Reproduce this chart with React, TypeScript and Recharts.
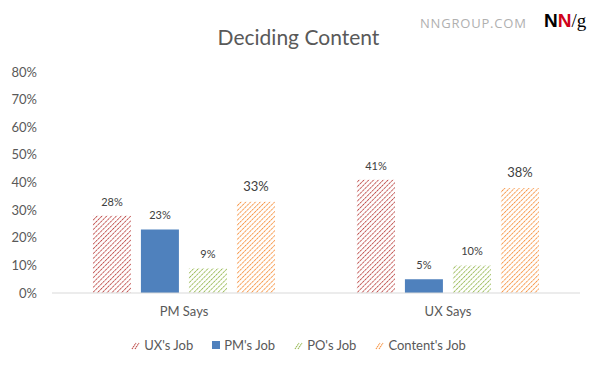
import { Bar, BarChart, LabelList, XAxis, YAxis } from "recharts";

const CATEGORIES = ["PM Says", "UX Says"];
const UX_JOB = [0.28, 0.41];
const PM_JOB = [0.23, 0.05];
const PO_JOB = [0.09, 0.1];
const CONTENT_JOB = [0.33, 0.38];
const Y_TICKS = [0, 0.1, 0.2, 0.3, 0.4, 0.5, 0.6, 0.7, 0.8];

const SERIES = [
  { key: "ux", name: "UX's Job", color: "#c0504d", fill: "url(#hatch-red)", big: false },
  { key: "pm", name: "PM's Job", color: "#4f81bd", fill: "#4f81bd", big: false },
  { key: "po", name: "PO's Job", color: "#9bbb59", fill: "url(#hatch-green)", big: false },
  { key: "content", name: "Content's Job", color: "#f79646", fill: "url(#hatch-orange)", big: true },
];

const data = CATEGORIES.map((name, i) => ({
  name,
  ux: UX_JOB[i],
  pm: PM_JOB[i],
  po: PO_JOB[i],
  content: CONTENT_JOB[i],
}));

const FONT = "Lato, 'Open Sans', sans-serif";
const GREY = "#595959";

const pct = (v: number) => `${Math.round(v * 100)}%`;

function Hatch({ id, color }: { id: string; color: string }) {
  return (
    <pattern id={id} patternUnits="userSpaceOnUse" width="3.4" height="3.4" patternTransform="rotate(45)">
      <rect width="3.4" height="3.4" fill="#fff" />
      <line x1="0" y1="0" x2="0" y2="3.4" stroke={color} strokeWidth="1.8" strokeDasharray="1.5 0.6" />
    </pattern>
  );
}

function makeLabel(big: boolean) {
  return (props: any) => {
    const { x, y, width, value } = props;
    return (
      <text
        x={x + width / 2}
        y={y - (big ? 11 : 10)}
        textAnchor="middle"
        fontSize={big ? 13 : 11}
        fill="#404040"
        fontFamily={FONT}
      >
        {pct(value)}
      </text>
    );
  };
}

function LegendIcon({ color, solid }: { color: string; solid: boolean }) {
  if (solid) {
    return <span style={{ display: "inline-block", width: 8, height: 8, background: color, marginRight: 4 }} />;
  }
  return (
    <svg width="9" height="9" style={{ marginRight: 4 }}>
      <line x1="1" y1="8" x2="5" y2="2" stroke={color} strokeWidth="1.2" strokeDasharray="1.5 0.6" />
      <line x1="4" y1="8" x2="8" y2="2" stroke={color} strokeWidth="1.2" strokeDasharray="1.5 0.6" />
    </svg>
  );
}

export default function App() {
  return (
    <div style={{ position: "absolute", left: 0, top: 0, width: 597, height: 367, background: "#fff", fontFamily: FONT }}>
      <div style={{ position: "absolute", top: 24, left: 0, width: 597, textAlign: "center", fontSize: 21, color: GREY }}>
        Deciding Content
      </div>
      <div style={{ position: "absolute", top: 14, left: 420, fontSize: 13, letterSpacing: 0.8, color: "#b0b0b0", fontFamily: "'Open Sans', sans-serif" }}>
        NNGROUP.COM
      </div>
      <div style={{ position: "absolute", top: 10, left: 544, fontSize: 19, fontFamily: "'Liberation Serif', serif" }}>
        <span style={{ fontWeight: 700, fontFamily: "'Liberation Sans', sans-serif", color: "#000" }}>N</span>
        <span style={{ fontWeight: 700, fontFamily: "'Liberation Sans', sans-serif", color: "#d0021b" }}>N</span>
        <span style={{ color: "#000" }}>/g</span>
      </div>
      <BarChart
        width={597}
        height={367}
        data={data}
        margin={{ top: 72, right: 17, bottom: 0, left: 0 }}
        barGap={10}
        barCategoryGap="15.5%"
      >
        <defs>
          <Hatch id="hatch-red" color="#c0504d" />
          <Hatch id="hatch-green" color="#9bbb59" />
          <Hatch id="hatch-orange" color="#f79646" />
        </defs>
        <XAxis
          dataKey="name"
          height={74}
          tickLine={false}
          tickSize={0}
          tickMargin={14}
          axisLine={{ stroke: "#d9d9d9" }}
          tick={{ fontSize: 13, fill: GREY, fontFamily: FONT }}
        />
        <YAxis
          width={52}
          domain={[0, 0.8]}
          ticks={Y_TICKS}
          tickFormatter={pct}
          axisLine={false}
          tickLine={false}
          tickSize={0}
          tickMargin={15}
          tick={{ fontSize: 13, fill: GREY, fontFamily: FONT }}
        />
        {SERIES.map((s) => (
          <Bar key={s.key} dataKey={s.key} name={s.name} fill={s.fill} isAnimationActive={false}>
            <LabelList dataKey={s.key} content={makeLabel(s.big)} />
          </Bar>
        ))}
      </BarChart>
      <div
        style={{
          position: "absolute",
          top: 337,
          left: 0,
          width: 597,
          display: "flex",
          justifyContent: "center",
          gap: 19,
          fontSize: 13,
          color: GREY,
        }}
      >
        {SERIES.map((s) => (
          <span key={s.key} style={{ display: "flex", alignItems: "center" }}>
            <LegendIcon color={s.color} solid={s.key === "pm"} />
            {s.name}
          </span>
        ))}
      </div>
    </div>
  );
}
